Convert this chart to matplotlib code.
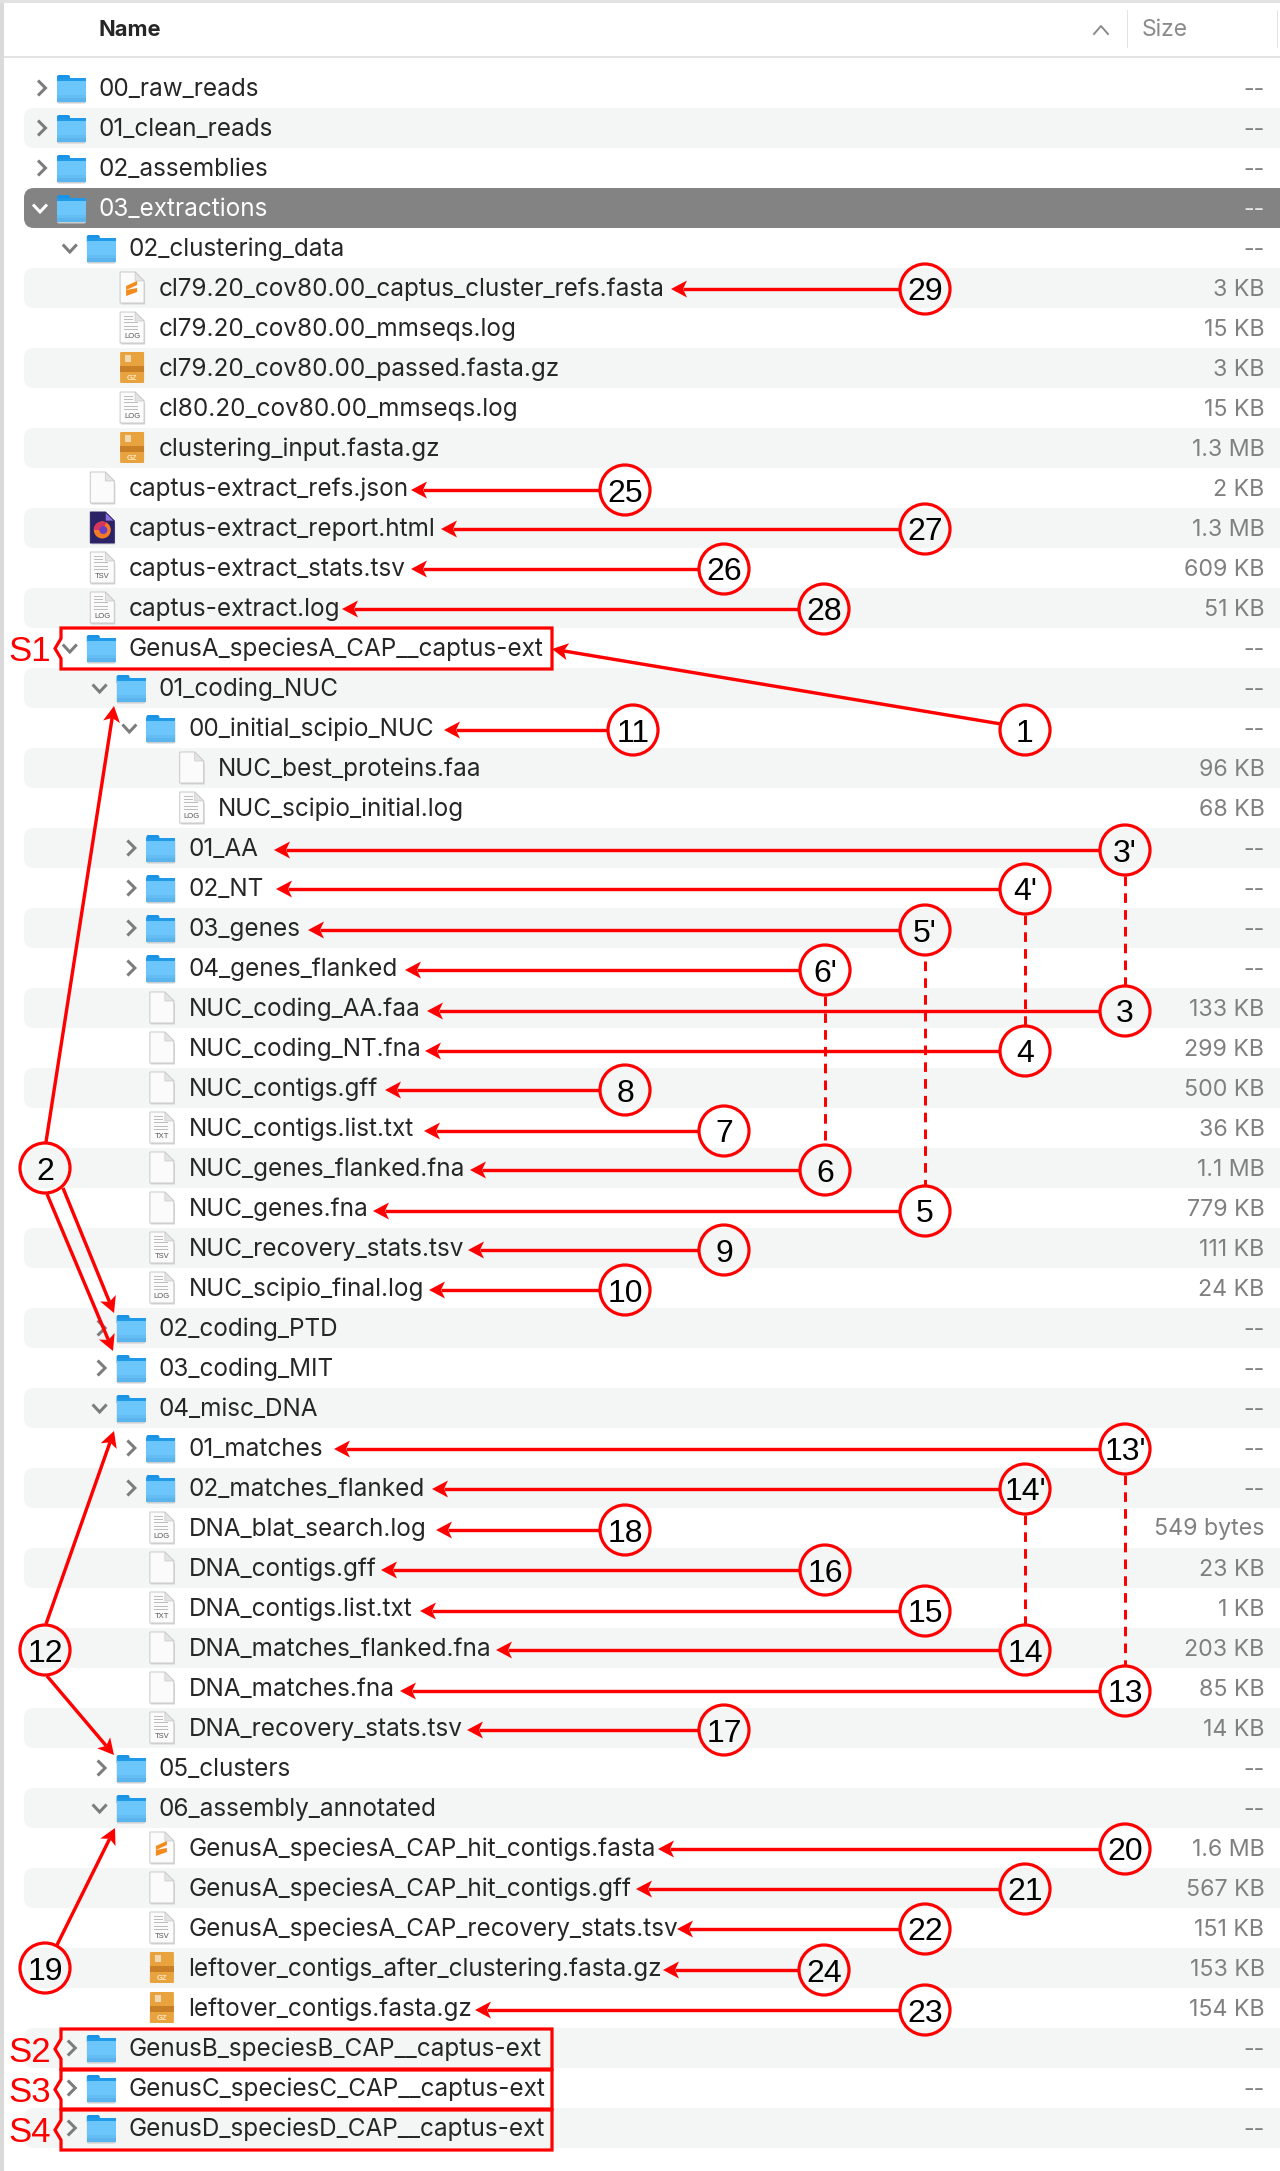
import math
import matplotlib
matplotlib.use("Agg")
import matplotlib.pyplot as plt
from matplotlib.patches import Rectangle, Polygon, Circle, FancyBboxPatch, Wedge
from matplotlib.path import Path
from matplotlib.patches import PathPatch

# ---- listing rows -------------------------------------------------------
names = ["00_raw_reads","01_clean_reads","02_assemblies","03_extractions","02_clustering_data",
 "cl79.20_cov80.00_captus_cluster_refs.fasta","cl79.20_cov80.00_mmseqs.log","cl79.20_cov80.00_passed.fasta.gz",
 "cl80.20_cov80.00_mmseqs.log","clustering_input.fasta.gz","captus-extract_refs.json","captus-extract_report.html",
 "captus-extract_stats.tsv","captus-extract.log","GenusA_speciesA_CAP__captus-ext","01_coding_NUC",
 "00_initial_scipio_NUC","NUC_best_proteins.faa","NUC_scipio_initial.log","01_AA","02_NT","03_genes",
 "04_genes_flanked","NUC_coding_AA.faa","NUC_coding_NT.fna","NUC_contigs.gff","NUC_contigs.list.txt",
 "NUC_genes_flanked.fna","NUC_genes.fna","NUC_recovery_stats.tsv","NUC_scipio_final.log","02_coding_PTD",
 "03_coding_MIT","04_misc_DNA","01_matches","02_matches_flanked","DNA_blat_search.log","DNA_contigs.gff",
 "DNA_contigs.list.txt","DNA_matches_flanked.fna","DNA_matches.fna","DNA_recovery_stats.tsv","05_clusters",
 "06_assembly_annotated","GenusA_speciesA_CAP_hit_contigs.fasta","GenusA_speciesA_CAP_hit_contigs.gff",
 "GenusA_speciesA_CAP_recovery_stats.tsv","leftover_contigs_after_clustering.fasta.gz","leftover_contigs.fasta.gz",
 "GenusB_speciesB_CAP__captus-ext","GenusC_speciesC_CAP__captus-ext","GenusD_speciesD_CAP__captus-ext"]
levels = [0,0,0,0,1, 2,2,2,2,2, 1,1,1,1,1, 2,3,4,4, 3,3,3,3, 3,3,3,3,3,3,3,3, 2,2,2, 3,3,3,3,3,3,3,3, 2,2, 3,3,3,3,3, 1,1,1]
# c = closed folder, o = open folder, otherwise the file icon type
kinds = ["c","c","c","o","o","sub","log","gz","log","gz","doc","fox","tsv","log","o","o","o","doc","log",
 "c","c","c","c","doc","doc","doc","txt","doc","doc","tsv","log","c","c","o","c","c","log","doc","txt",
 "doc","doc","tsv","c","o","sub","doc","tsv","gz","gz","c","c","c"]
sizes = ["--","--","--","--","--","3 KB","15 KB","3 KB","15 KB","1.3 MB","2 KB","1.3 MB","609 KB","51 KB","--","--",
 "--","96 KB","68 KB","--","--","--","--","133 KB","299 KB","500 KB","36 KB","1.1 MB","779 KB","111 KB","24 KB",
 "--","--","--","--","--","549 bytes","23 KB","1 KB","203 KB","85 KB","14 KB","--","--","1.6 MB","567 KB","151 KB",
 "153 KB","154 KB","--","--","--"]

# ---- callouts: label, circle x, circle y, arrow tip x, arrow tip y -------
call_labels = ["29","25","27","26","28","1","11","3'","4'","5'","6'","3","4","8","7","6","5","9","10",
               "18","16","15","14'","13'","14","13","17","20","21","22","24","23"]
call_cx = [925,625,925,724,824,1025,633,1125,1025,925,825,1125,1025,625,724,825,925,724,625,
           625,825,925,1025,1125,1025,1125,724,1125,1025,925,824,925]
call_cy = [289,490,529,569,609,730,730,850,889,930,970,1011,1051,1090,1131,1170,1211,1250,1290,
           1530,1570,1611,1489,1449,1650,1691,1730,1849,1889,1929,1970,2010]
call_tx = [671,411,441,411,342,552,444,274,276,308,405,427,425,385,424,470,373,468,429,
           436,381,420,432,334,496,400,467,658,636,677,663,475]
call_ty = [289,490,529,569,609,649,730,850,889,930,970,1011,1051,1090,1131,1170,1211,1250,1290,
           1530,1570,1611,1489,1449,1650,1691,1730,1849,1889,1929,1970,2010]

# dashed links between callouts (x, top y, bottom y)
dash_x = [1125,1025,925,825,1125,1025]
dash_top = [876,915,961,996,1475,1515]
dash_bot = [985,1025,1185,1144,1665,1624]

# side callouts with several arrows
side_labels = ["2","12","19"]
side_cx = [45,45,45]
side_cy = [1168,1650,1968]
side_from = [[(46,1142),(47,1194),(63,1188)],[(46,1624),(47,1676)],[(57,1945)]]
side_to = [[(114,706),(113,1351),(114,1313)],[(114,1431),(114,1755)],[(115,1828)]]

# sample boxes
box_labels = ["S1","S2","S3","S4"]
box_top = [628,2029,2070,2110]
box_bot = [669,2069,2109,2150]

RED = "#ff0000"
TXT = "#262626"
GREY = "#808080"
BAND = "#f4f5f5"
SEL = "#838383"
UI = ["Inter", "DejaVu Sans"]
ARIAL = ["Liberation Sans", "DejaVu Sans"]

fig = plt.figure(figsize=(12.8, 21.71), dpi=100)
ax = fig.add_axes([0, 0, 1, 1])
ax.set_xlim(0, 1280)
ax.set_ylim(2171, 0)
ax.axis("off")
PX = 0.72  # one pixel in points

def rect(x0, y0, x1, y1, c, z=2, **k):
    ax.add_patch(Rectangle((x0, y0), x1 - x0, y1 - y0, fc=c, ec="none", zorder=z, **k))

def round_rect(x0, y0, x1, y1, r, fc, ec="none", lw=0, z=2):
    ax.add_patch(FancyBboxPatch((x0 + r, y0 + r), x1 - x0 - 2 * r, y1 - y0 - 2 * r,
                                boxstyle=f"round,pad={r},rounding_size={r}",
                                fc=fc, ec=ec, lw=lw, zorder=z))

def folder(x0, cy):
    round_rect(x0, cy - 8, x0 + 29, cy + 15.5, 2, "#c9ced2", z=3)
    round_rect(x0, cy - 13, x0 + 13, cy - 4, 2, "#1b93e4", z=3)
    rect(x0, cy - 10, x0 + 29, cy - 6.5, "#1f9aea", z=3)
    rect(x0, cy - 7, x0 + 29, cy + 7, "#6cc6fb", z=3)
    rect(x0, cy + 7, x0 + 29, cy + 10, "#64bdf3", z=3)
    rect(x0, cy + 10, x0 + 29, cy + 14, "#5cb4ec", z=3)

def sheet(x0, cy, fc="#fbfbfb", ec="#c8c8c8", fold="#e4e4e4"):
    w, t, b, f = 24, cy - 16, cy + 15, 9
    ax.add_patch(Polygon([(x0 + 1, t + 2), (x0 + w + 1, t + f + 2), (x0 + w + 1, b + 1.5), (x0 + 1, b + 1.5)],
                         fc="#d5d5d5", ec="none", zorder=3))
    ax.add_patch(Polygon([(x0, t), (x0 + w - f, t), (x0 + w, t + f), (x0 + w, b), (x0, b)],
                         fc=fc, ec=ec, lw=0.7, zorder=3))
    ax.add_patch(Polygon([(x0 + w - f, t), (x0 + w, t + f), (x0 + w - f, t + f)],
                         fc=fold, ec=ec, lw=0.5, zorder=3))

def file_icon(kind, x0, cy):
    if kind == "gz":
        round_rect(x0, cy - 16, x0 + 24, cy + 15, 1, "#e8a33f", z=3)
        rect(x0, cy - 2, x0 + 24, cy + 4, "#c97f25", z=3)
        rect(x0 + 5, cy - 13, x0 + 11, cy - 6, "#f0d9b0", z=3)
        ax.text(x0 + 12, cy + 10, "GZ", fontsize=5.5, color="#fbe7c6", ha="center", va="center",
                family=ARIAL, fontweight="bold", zorder=4)
        return
    if kind == "fox":
        sheet(x0, cy, fc="#2c2266", ec="#2c2266", fold="#8f6fe0")
        ax.add_patch(Circle((x0 + 12, cy + 2), 8.5, fc="#f47a25", ec="none", zorder=4))
        ax.add_patch(Wedge((x0 + 12, cy + 2), 8.5, 180, 300, fc="#d9365e", ec="none", zorder=4))
        ax.add_patch(Circle((x0 + 13, cy + 2), 4, fc="#6a3fc4", ec="none", zorder=5))
        return
    sheet(x0, cy)
    if kind == "sub":
        s = [[(x0 + 6, cy - 2), (x0 + 17, cy - 7), (x0 + 17, cy - 3), (x0 + 6, cy + 2)],
             [(x0 + 6, cy + 2), (x0 + 17, cy + 0), (x0 + 17, cy + 4), (x0 + 6, cy + 8)]]
        for p in s:
            ax.add_patch(Polygon(p, fc="#f48a1c", ec="none", zorder=4))
    elif kind in ("log", "tsv", "txt"):
        for i in range(5):
            rect(x0 + 4, cy - 12 + 3.2 * i, x0 + (13 if i < 2 else 18), cy - 11 + 3.2 * i, "#bdbdbd", z=4)
        ax.text(x0 + 12, cy + 9, kind.upper(), fontsize=5.5, color="#555555", ha="center", va="center",
                family=ARIAL, zorder=4)

def chevron(x, cy, is_open, color):
    if is_open:
        pts = [(x - 7, cy - 3.5), (x, cy + 4), (x + 7, cy - 3.5)]
    else:
        pts = [(x - 3.5, cy - 7.5), (x + 4, cy), (x - 3.5, cy + 7.5)]
    ax.plot(*zip(*pts), color=color, lw=3 * PX, solid_joinstyle="miter", solid_capstyle="butt", zorder=3)

def arrow(x0, y0, x1, y1):
    d = math.hypot(x1 - x0, y1 - y0)
    ux, uy = (x1 - x0) / d, (y1 - y0) / d
    px, py = -uy, ux
    L, W, N = 16, 8.5, 12
    ax.plot([x0, x1 - ux * N], [y0, y1 - uy * N], color=RED, lw=3.4 * PX, solid_capstyle="butt", zorder=6)
    ax.add_patch(Polygon([(x1, y1),
                          (x1 - ux * L + px * W, y1 - uy * L + py * W),
                          (x1 - ux * N, y1 - uy * N),
                          (x1 - ux * L - px * W, y1 - uy * L - py * W)],
                         fc=RED, ec="none", zorder=6))

# ---- window chrome ------------------------------------------------------
rect(0, 0, 4, 2171, "#dadada", z=1)
rect(0, 0, 1280, 3, "#e2e2e2", z=1)
rect(4, 56, 1280, 58, "#e3e3e3", z=1)
rect(1126.5, 10, 1128, 48, "#e3e3e3", z=1)
rect(1276.5, 10, 1278, 48, "#e3e3e3", z=1)
ax.text(99, 36, "Name", fontsize=15.8, fontweight="bold", color=TXT, family=UI, ha="left", va="baseline")
ax.text(1142, 36, "Size", fontsize=16.5, color="#8a8a8a", family=UI, ha="left", va="baseline")
ax.plot([1094, 1101, 1108], [34, 26, 34], color="#8a8a8a", lw=1.6 * PX * 1.2)

# ---- rows ---------------------------------------------------------------
FS = 17.5
FS_SIZE = 16.7
for i, (nm, lv, kd, sz) in enumerate(zip(names, levels, kinds, sizes)):
    top = 68 + 40 * i
    cy = top + 20
    if i == 3:
        round_rect(24, top, 1400, top + 40, 10, SEL, z=1)
    elif i % 2 == 1:
        round_rect(24, top, 1400, top + 40, 10, BAND, z=1)
    tx = 99 + 29.8 * lv
    sel = i == 3
    if kd in ("c", "o"):
        folder(tx - 42, cy)
        chevron(tx - (59 if kd == "o" else 57.5), cy, kd == "o", "#ffffff" if sel else "#7c7c7c")
    else:
        file_icon(kd, tx - 38.5, cy)
    ax.text(tx, cy + 8, nm, fontsize=FS, color="#ffffff" if sel else TXT, family=UI,
            ha="left", va="baseline", zorder=5)
    ax.text(1264.5, cy + 7.5, sz, fontsize=FS_SIZE, color="#e6e6e6" if sel else GREY, family=UI,
            ha="right", va="baseline", zorder=5)

# ---- sample boxes -------------------------------------------------------
for lab, t, b in zip(box_labels, box_top, box_bot):
    m = (t + b) / 2
    verts = [(61, t), (552, t), (552, b), (61, b), (61, m + 10), (55, m), (61, m - 10), (61, t)]
    codes = [Path.MOVETO] + [Path.LINETO] * 6 + [Path.CLOSEPOLY]
    ax.add_patch(PathPatch(Path(verts, codes), fc="none", ec=RED, lw=3.2 * PX, joinstyle="miter", zorder=6))
    ax.text(29.5, m + 12.5, lab, fontsize=25, color=RED, family=ARIAL, ha="center", va="baseline", zorder=6)

# ---- callouts -----------------------------------------------------------
R = 25
for x, t, b in zip(dash_x, dash_top, dash_bot):
    ax.plot([x, x], [t, b], color=RED, lw=3 * PX, dashes=(3.2, 2.4), zorder=5)

def badge(lab, x, y):
    ax.add_patch(Circle((x, y), R, fc="none", ec=RED, lw=3.2 * PX, zorder=7))
    ax.text(x, y + 11.5, lab, fontsize=23, color="black", family=ARIAL, ha="center", va="baseline", zorder=8)

for lab, cx, cy, tx, ty in zip(call_labels, call_cx, call_cy, call_tx, call_ty):
    if cy == ty:
        arrow(cx - R, cy, tx, ty)
    else:
        arrow(cx - R + 1, cy - 6, tx, ty)
    badge(lab, cx, cy)

for lab, cx, cy, frm, to in zip(side_labels, side_cx, side_cy, side_from, side_to):
    for f, t in zip(frm, to):
        arrow(f[0], f[1], t[0], t[1])
    badge(lab, cx, cy)

fig.savefig("out.png", dpi=100)
